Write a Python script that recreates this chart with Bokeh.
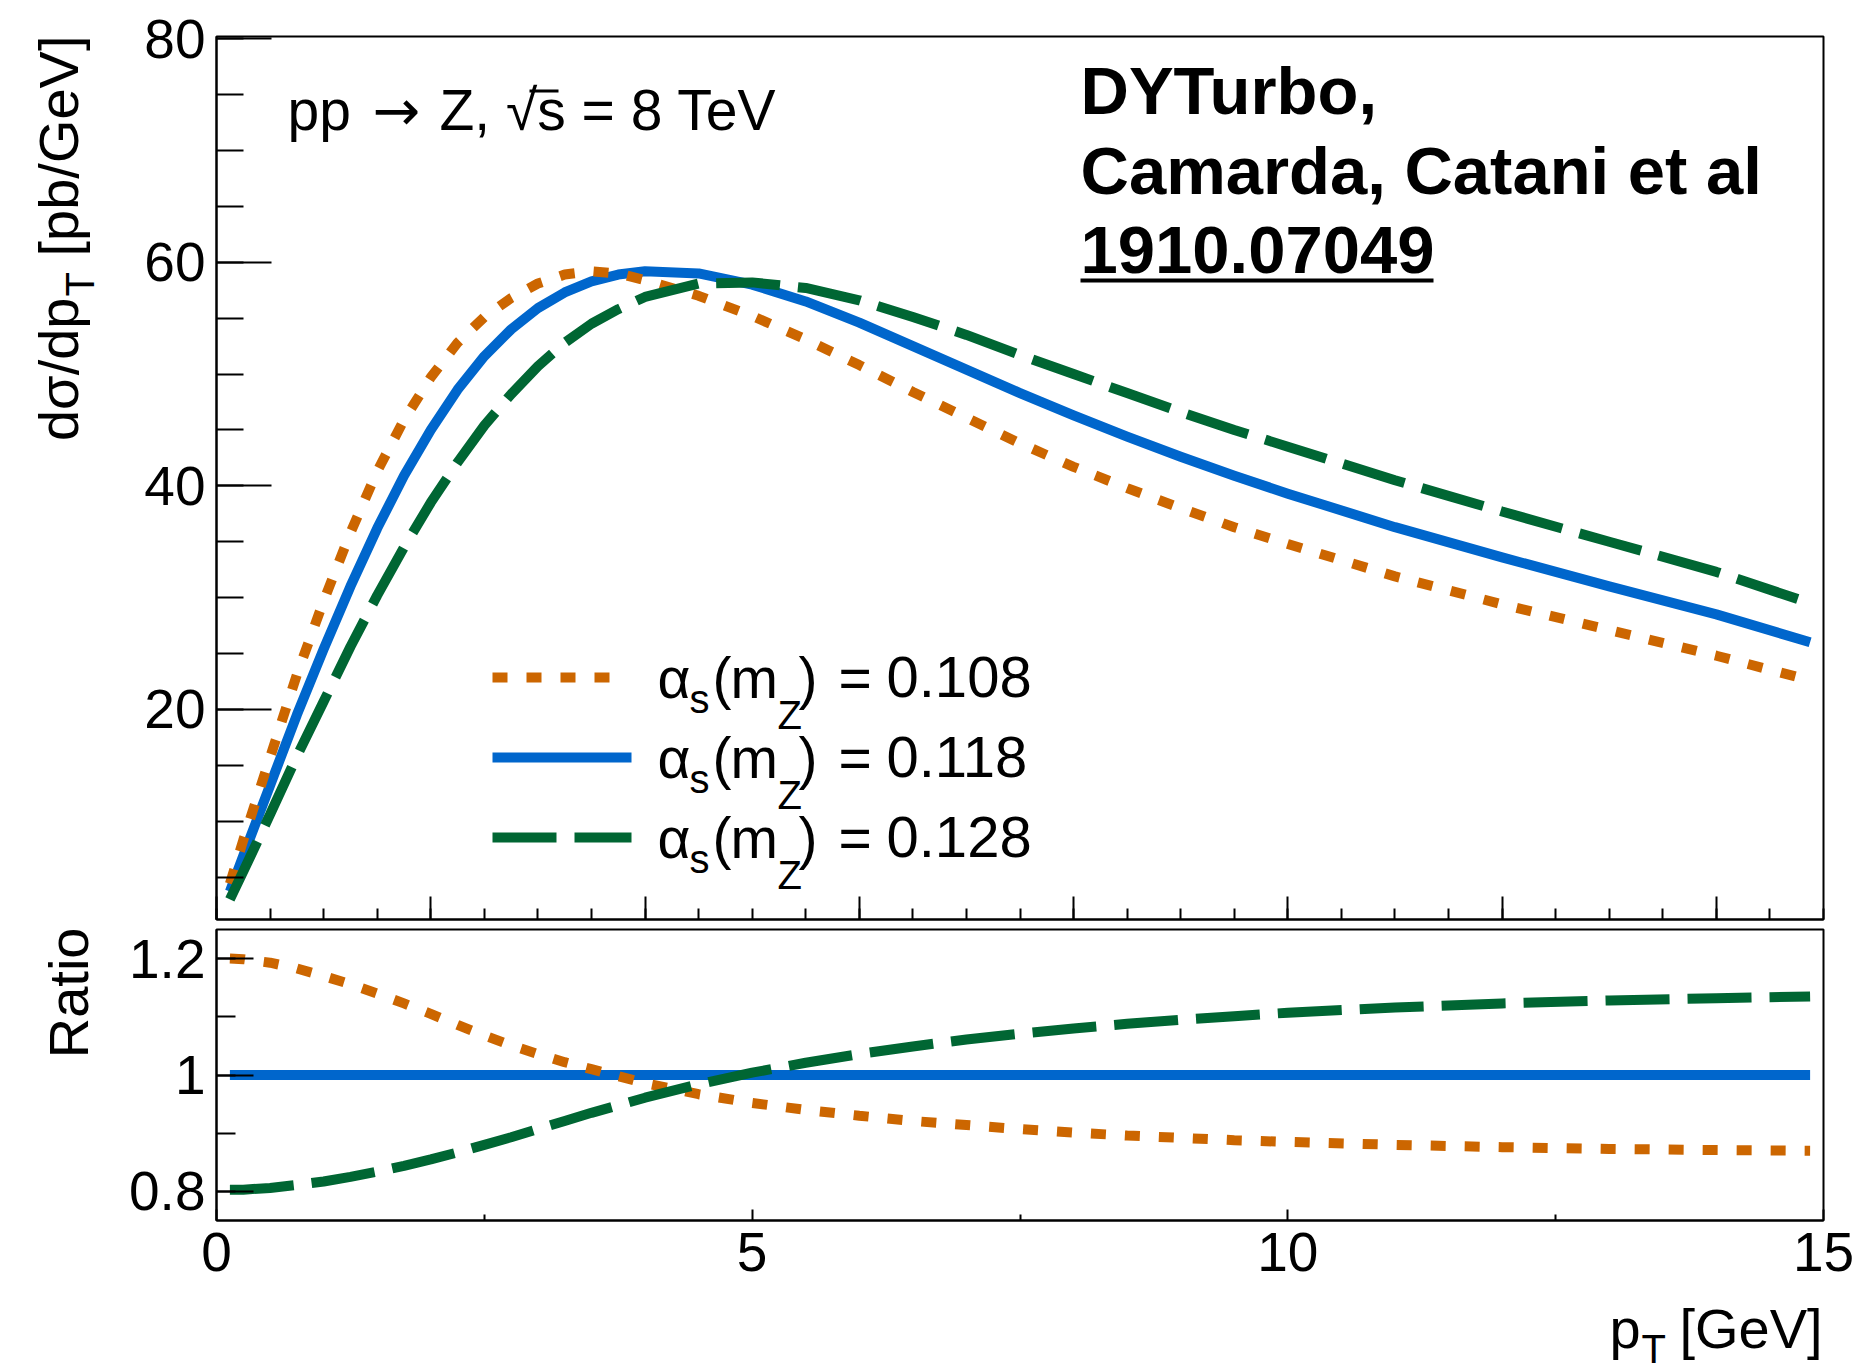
import math
from bokeh.plotting import figure
from bokeh.layouts import column, row
from bokeh.models import Range1d, FixedTicker, Label, BoxAnnotation
from bokeh.embed import file_html
from bokeh.resources import INLINE

FONT = "Liberation Sans"
ARROW_FONT = "DejaVu Sans"

# ---------------- data ----------------
pt = [0.125, 0.25, 0.5, 0.75, 1.0, 1.25, 1.5, 1.75, 2.0, 2.25, 2.5, 2.75, 3.0, 3.25,
      3.5, 3.75, 4.0, 4.5, 5.0, 5.5, 6.0, 6.5, 7.0, 7.5, 8.0, 8.5, 9.0, 9.5, 10.0,
      11.0, 12.0, 13.0, 14.0, 14.875]

xs_108 = [4.4, 8.3, 15.7, 23.1, 29.7, 35.8, 41.3, 45.9, 49.7, 52.8, 55.1, 56.8, 58.1, 58.9,
          59.2, 59.0, 58.4, 57.0, 55.2, 53.1, 50.8, 48.4, 46.1, 43.8, 41.7, 39.8, 38.0, 36.3, 34.8,
          31.9, 29.4, 27.1, 24.8, 22.6]
xs_118 = [3.7, 6.9, 13.2, 19.5, 25.4, 31.0, 36.2, 40.9, 45.0, 48.6, 51.6, 54.0, 55.9, 57.3,
          58.3, 58.9, 59.2, 59.0, 58.0, 56.5, 54.6, 52.5, 50.4, 48.3, 46.3, 44.4, 42.6, 40.9, 39.3,
          36.3, 33.6, 31.0, 28.5, 26.0]
xs_128 = [3.0, 5.5, 10.6, 15.8, 20.7, 25.6, 30.2, 34.5, 38.5, 42.1, 45.4, 48.2, 50.7, 52.8,
          54.5, 55.8, 56.9, 58.1, 58.2, 57.7, 56.6, 55.1, 53.5, 51.7, 50.0, 48.3, 46.6, 45.0, 43.5,
          40.5, 37.7, 35.0, 32.3, 29.5]

ratio_108 = [1.200, 1.199, 1.193, 1.183, 1.170, 1.156, 1.140, 1.123, 1.105, 1.086, 1.068, 1.051,
             1.036, 1.022, 1.010, 0.998, 0.986, 0.967, 0.952, 0.940, 0.930, 0.921, 0.914, 0.907,
             0.901, 0.896, 0.892, 0.888, 0.885, 0.880, 0.876, 0.873, 0.871, 0.870]
ratio_118 = [1.0, 1.0, 1.0, 1.0, 1.0, 1.0, 1.0, 1.0, 1.0, 1.0, 1.0, 1.0, 1.0, 1.0, 1.0, 1.0, 1.0,
             1.0, 1.0, 1.0, 1.0, 1.0, 1.0, 1.0, 1.0, 1.0, 1.0, 1.0, 1.0, 1.0, 1.0, 1.0, 1.0, 1.0]
ratio_128 = [0.803, 0.803, 0.806, 0.811, 0.817, 0.825, 0.834, 0.844, 0.855, 0.867, 0.880, 0.893,
             0.907, 0.921, 0.935, 0.948, 0.961, 0.984, 1.004, 1.021, 1.036, 1.049, 1.061, 1.071,
             1.080, 1.088, 1.095, 1.101, 1.107, 1.116, 1.123, 1.128, 1.132, 1.135]

series_values = ["0.108", "0.118", "0.128"]
top_y_ticks = [20, 40, 60, 80]
top_x_ticks = [0, 2, 4, 6, 8, 10, 12, 14]
ratio_y_ticks = [0.8, 1.0, 1.2]
bottom_x_ticks = [0, 5, 10, 15]

# ---------------- style / layout ----------------
C_ORANGE = "#cc6600"
C_BLUE = "#0066cc"
C_GREEN = "#006633"
LW = 10
DASH_ORANGE = "15 19"
DASH_GREEN = "64 18"

X_MIN, X_MAX = 0.0, 15.0
Y_MIN, Y_MAX = 1.2, 80.2
R_MIN, R_MAX = 0.75, 1.25

W, H = 1860, 1372
WL = 100                      # left strip holding the rotated axis titles
FL, FT = 216, 36              # frame left / top of the upper panel (page pixels)
FW, FH_TOP, FH_BOT = 1607, 883, 291
TOP_H = FT + FH_TOP + 5       # 924
BOT_BB = 76
BOT_H = 5 + FH_BOT + BOT_BB   # 372
XL_H = H - TOP_H - BOT_H      # strip holding the x title
BASE = 0.35                   # label anchor sits this many em above the baseline


def style_axis(ax, major_in, minor_in, size="55px", standoff=11):
    ax.axis_line_color = "black"
    ax.axis_line_width = 2
    ax.major_tick_in = major_in
    ax.major_tick_out = 0
    ax.minor_tick_in = minor_in
    ax.minor_tick_out = 0
    ax.major_tick_line_width = 2
    ax.minor_tick_line_width = 2
    ax.major_tick_line_color = "black"
    ax.minor_tick_line_color = "black"
    ax.major_label_text_font = FONT
    ax.major_label_text_font_size = size
    ax.major_label_text_color = "black"
    ax.major_label_standoff = standoff


def base_fig(y0, y1, fh, bt, bb):
    p = figure(frame_width=FW, frame_height=fh,
               min_border_left=FL - WL, min_border_right=W - FL - FW,
               min_border_top=bt, min_border_bottom=bb,
               x_range=Range1d(X_MIN, X_MAX), y_range=Range1d(y0, y1),
               output_backend="svg", toolbar_location=None)
    p.xgrid.visible = False
    p.ygrid.visible = False
    p.outline_line_color = "black"
    p.outline_line_width = 2
    p.outline_line_alpha = 1.0
    p.background_fill_color = "white"
    p.border_fill_color = "white"
    return p


def strip_fig(w, h, x0, y0):
    # plain canvas whose data units are page pixels (y downwards)
    p = figure(width=w, height=h, x_range=Range1d(x0, x0 + w), y_range=Range1d(y0 + h, y0),
               min_border=0, x_axis_location=None, y_axis_location=None,
               output_backend="svg", toolbar_location=None, title=None)
    p.xgrid.visible = False
    p.ygrid.visible = False
    p.outline_line_color = None
    p.background_fill_color = "white"
    p.border_fill_color = "white"
    return p


def mk(text, size, bold=False, align="left", angle=0.0, font=FONT):
    return dict(text=text, text_font=font, text_font_size=f"{size}px",
                text_font_style="bold" if bold else "normal",
                text_align=align, text_baseline="alphabetic",
                angle=angle, text_color="black")


def top_text(p, text, X, B, size, bold=False, font=FONT):
    # X: left edge, B: baseline, both in page pixels
    p.add_layout(Label(x=X_MIN, y=Y_MAX, x_offset=X - FL, y_offset=-(B - BASE * size - FT),
                       **mk(text, size, bold, font=font)))


def strip_text(p, text, X, B, size, align="left", angle=0.0):
    if angle:
        p.add_layout(Label(x=X - BASE * size, y=B, **mk(text, size, align=align, angle=angle)))
    else:
        p.add_layout(Label(x=X, y=B - BASE * size, **mk(text, size, align=align)))


# ---------------- top panel ----------------
top = base_fig(Y_MIN, Y_MAX, FH_TOP, FT, 5)
style_axis(top.yaxis[0], 55, 27)
top.yaxis[0].ticker = FixedTicker(ticks=top_y_ticks, minor_ticks=[5 * i for i in range(17)])
style_axis(top.xaxis[0], 23, 11, size="1px", standoff=0)
top.xaxis[0].ticker = FixedTicker(ticks=top_x_ticks, minor_ticks=[0.5 * i for i in range(31)])
top.xaxis[0].major_label_overrides = {t: "" for t in top_x_ticks}

top.line(pt, xs_118, line_color=C_BLUE, line_width=LW, line_join="round")
top.line(pt, xs_108, line_color=C_ORANGE, line_width=LW, line_dash=DASH_ORANGE)
top.line(pt, xs_128, line_color=C_GREEN, line_width=LW, line_dash=DASH_GREEN)

sx = (X_MAX - X_MIN) / FW
sy = (Y_MAX - Y_MIN) / FH_TOP


def tx(px):
    return X_MIN + (px - FL) * sx


def ty(py):
    return Y_MAX - (py - FT) * sy


# legend
legend_styles = [(C_ORANGE, DASH_ORANGE, 614), (C_BLUE, "solid", 631), (C_GREEN, DASH_GREEN, 631)]
for i, (col, dash, xend) in enumerate(legend_styles):
    yk = ty(677 + 80 * i)
    top.line([tx(492), tx(xend)], [yk, yk], line_color=col, line_width=LW, line_dash=dash)
    b = 697 + 80 * i
    top_text(top, "α", 657, b, 57)
    top_text(top, "s", 689, b + 15, 40)
    top_text(top, "(", 712, b, 57)
    top_text(top, "m", 730, b, 57)
    top_text(top, "Z", 777, b + 31, 40)
    top_text(top, ")", 798, b, 57)
    top_text(top, "=", 838, b, 57)
    top_text(top, series_values[i], 886, b, 58)

# process label
top_text(top, "pp", 287, 129, 57)
top_text(top, "→", 372, 129, 57, font=ARROW_FONT)
top_text(top, "Z, √s = 8 TeV", 439, 129, 57)
top.add_layout(BoxAnnotation(left=tx(529), right=tx(558), bottom=ty(92), top=ty(89),
                             fill_color="black", fill_alpha=1.0, line_alpha=0))
# reference
top_text(top, "DYTurbo,", 1080, 113, 67, bold=True)
top_text(top, "Camarda, Catani et al", 1080, 193, 67, bold=True)
top_text(top, "1910.07049", 1080, 273, 67, bold=True)
top.add_layout(BoxAnnotation(left=tx(1080), right=tx(1433), bottom=ty(282), top=ty(278),
                             fill_color="black", fill_alpha=1.0, line_alpha=0))

# ---------------- ratio panel ----------------
bot = base_fig(R_MIN, R_MAX, FH_BOT, 5, BOT_BB)
style_axis(bot.yaxis[0], 37, 19)
bot.yaxis[0].ticker = FixedTicker(ticks=ratio_y_ticks, minor_ticks=[0.8, 0.9, 1.0, 1.1, 1.2])
bot.yaxis[0].major_label_overrides = {0.8: "0.8", 1.0: "1", 1.2: "1.2"}
style_axis(bot.xaxis[0], 11, 6, standoff=12)
bot.xaxis[0].ticker = FixedTicker(ticks=bottom_x_ticks, minor_ticks=[2.5, 7.5, 12.5])

bot.line(pt, ratio_118, line_color=C_BLUE, line_width=LW)
bot.line(pt, ratio_108, line_color=C_ORANGE, line_width=LW, line_dash=DASH_ORANGE)
bot.line(pt, ratio_128, line_color=C_GREEN, line_width=LW, line_dash=DASH_GREEN)

# ---------------- axis titles ----------------
left = strip_fig(WL, TOP_H + BOT_H, 0, 0)
up = math.pi / 2
strip_text(left, "[pb/GeV]", 78, 35, 56, align="right", angle=up)
strip_text(left, "T", 93, 296, 40, align="left", angle=up)
strip_text(left, "dσ/dp", 78, 297, 56, align="right", angle=up)
strip_text(left, "Ratio", 88, 927, 56, align="right", angle=up)

xl = strip_fig(W, XL_H, 0, TOP_H + BOT_H)
strip_text(xl, "p", 1609, 1348, 56)
strip_text(xl, "T", 1641, 1362, 40)
strip_text(xl, "[GeV]", 1679, 1348, 56)

layout = column(row(left, column(top, bot, spacing=0), spacing=0), xl, spacing=0)
open("out.html", "w").write(file_html(layout, INLINE))
